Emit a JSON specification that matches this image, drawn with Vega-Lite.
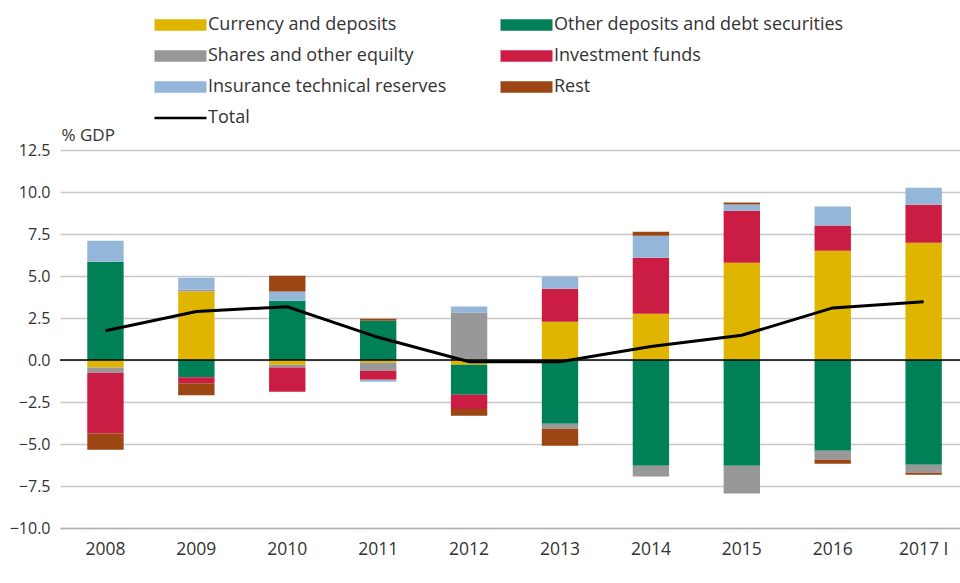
{
  "$schema": "https://vega.github.io/schema/vega-lite/v6.json",
  "autosize": "none",
  "width": 900,
  "height": 378,
  "padding": {"left": 60, "top": 150, "right": 0, "bottom": 55},
  "background": "white",
  "config": {
    "font": "Open Sans",
    "view": {"stroke": null},
    "axis": {"labelFont": "Open Sans", "labelColor": "#333333", "titleFont": "Open Sans", "titleColor": "#333333"},
    "legend": {"labelFont": "Open Sans", "labelColor": "#333333"}
  },
  "datasets": {
    "parts": [
      {"year": "2008", "component": "Currency and deposits", "idx": 1, "value": -0.44},
      {"year": "2008", "component": "Other deposits and debt securities", "idx": 2, "value": 5.85},
      {"year": "2008", "component": "Shares and other equilty", "idx": 3, "value": -0.32},
      {"year": "2008", "component": "Investment funds", "idx": 4, "value": -3.61},
      {"year": "2008", "component": "Insurance technical reserves", "idx": 5, "value": 1.25},
      {"year": "2008", "component": "Rest", "idx": 6, "value": -0.97},
      {"year": "2009", "component": "Currency and deposits", "idx": 1, "value": 4.07},
      {"year": "2009", "component": "Other deposits and debt securities", "idx": 2, "value": -1.03},
      {"year": "2009", "component": "Shares and other equilty", "idx": 3, "value": 0.12},
      {"year": "2009", "component": "Investment funds", "idx": 4, "value": -0.36},
      {"year": "2009", "component": "Insurance technical reserves", "idx": 5, "value": 0.71},
      {"year": "2009", "component": "Rest", "idx": 6, "value": -0.71},
      {"year": "2010", "component": "Currency and deposits", "idx": 1, "value": -0.28},
      {"year": "2010", "component": "Other deposits and debt securities", "idx": 2, "value": 3.53},
      {"year": "2010", "component": "Shares and other equilty", "idx": 3, "value": -0.16},
      {"year": "2010", "component": "Investment funds", "idx": 4, "value": -1.45},
      {"year": "2010", "component": "Insurance technical reserves", "idx": 5, "value": 0.54},
      {"year": "2010", "component": "Rest", "idx": 6, "value": 0.95},
      {"year": "2011", "component": "Currency and deposits", "idx": 1, "value": -0.16},
      {"year": "2011", "component": "Other deposits and debt securities", "idx": 2, "value": 2.34},
      {"year": "2011", "component": "Shares and other equilty", "idx": 3, "value": -0.48},
      {"year": "2011", "component": "Investment funds", "idx": 4, "value": -0.54},
      {"year": "2011", "component": "Insurance technical reserves", "idx": 5, "value": -0.12},
      {"year": "2011", "component": "Rest", "idx": 6, "value": 0.12},
      {"year": "2012", "component": "Currency and deposits", "idx": 1, "value": -0.28},
      {"year": "2012", "component": "Other deposits and debt securities", "idx": 2, "value": -1.79},
      {"year": "2012", "component": "Shares and other equilty", "idx": 3, "value": 2.82},
      {"year": "2012", "component": "Investment funds", "idx": 4, "value": -0.85},
      {"year": "2012", "component": "Insurance technical reserves", "idx": 5, "value": 0.36},
      {"year": "2012", "component": "Rest", "idx": 6, "value": -0.4},
      {"year": "2013", "component": "Currency and deposits", "idx": 1, "value": 2.28},
      {"year": "2013", "component": "Other deposits and debt securities", "idx": 2, "value": -3.79},
      {"year": "2013", "component": "Shares and other equilty", "idx": 3, "value": -0.3},
      {"year": "2013", "component": "Investment funds", "idx": 4, "value": 1.96},
      {"year": "2013", "component": "Insurance technical reserves", "idx": 5, "value": 0.71},
      {"year": "2013", "component": "Rest", "idx": 6, "value": -1.01},
      {"year": "2014", "component": "Currency and deposits", "idx": 1, "value": 2.76},
      {"year": "2014", "component": "Other deposits and debt securities", "idx": 2, "value": -6.29},
      {"year": "2014", "component": "Shares and other equilty", "idx": 3, "value": -0.65},
      {"year": "2014", "component": "Investment funds", "idx": 4, "value": 3.33},
      {"year": "2014", "component": "Insurance technical reserves", "idx": 5, "value": 1.31},
      {"year": "2014", "component": "Rest", "idx": 6, "value": 0.24},
      {"year": "2015", "component": "Currency and deposits", "idx": 1, "value": 5.79},
      {"year": "2015", "component": "Other deposits and debt securities", "idx": 2, "value": -6.29},
      {"year": "2015", "component": "Shares and other equilty", "idx": 3, "value": -1.65},
      {"year": "2015", "component": "Investment funds", "idx": 4, "value": 3.1},
      {"year": "2015", "component": "Insurance technical reserves", "idx": 5, "value": 0.36},
      {"year": "2015", "component": "Rest", "idx": 6, "value": 0.12},
      {"year": "2016", "component": "Currency and deposits", "idx": 1, "value": 6.51},
      {"year": "2016", "component": "Other deposits and debt securities", "idx": 2, "value": -5.4},
      {"year": "2016", "component": "Shares and other equilty", "idx": 3, "value": -0.54},
      {"year": "2016", "component": "Investment funds", "idx": 4, "value": 1.49},
      {"year": "2016", "component": "Insurance technical reserves", "idx": 5, "value": 1.13},
      {"year": "2016", "component": "Rest", "idx": 6, "value": -0.24},
      {"year": "2017 I", "component": "Currency and deposits", "idx": 1, "value": 6.98},
      {"year": "2017 I", "component": "Other deposits and debt securities", "idx": 2, "value": -6.23},
      {"year": "2017 I", "component": "Shares and other equilty", "idx": 3, "value": -0.48},
      {"year": "2017 I", "component": "Investment funds", "idx": 4, "value": 2.26},
      {"year": "2017 I", "component": "Insurance technical reserves", "idx": 5, "value": 1.01},
      {"year": "2017 I", "component": "Rest", "idx": 6, "value": -0.12}
    ],
    "total": [
      {"year": "2008", "total": 1.74},
      {"year": "2009", "total": 2.89},
      {"year": "2010", "total": 3.17},
      {"year": "2011", "total": 1.35},
      {"year": "2012", "total": -0.1},
      {"year": "2013", "total": -0.1},
      {"year": "2014", "total": 0.8},
      {"year": "2015", "total": 1.47},
      {"year": "2016", "total": 3.1},
      {"year": "2017 I", "total": 3.47}
    ],
    "zero": [{"y": 0}]
  },
  "layer": [
    {
      "data": {"name": "parts"},
      "mark": {"type": "bar"},
      "encoding": {
        "x": {
          "field": "year", "type": "nominal", "sort": null,
          "scale": {"paddingInner": 0.6, "paddingOuter": 0.25, "align": 0.6},
          "axis": {"title": null, "labelAngle": 0, "labelFontSize": 17.5, "labelPadding": 12, "ticks": false, "domain": true, "domainColor": "#b4b4b4", "domainWidth": 1.5}
        },
        "y": {
          "field": "value", "type": "quantitative", "stack": "zero",
          "scale": {"domain": [-10, 12.5], "nice": false, "zero": false},
          "axis": {
            "title": "% GDP", "titleAngle": 0, "titleAlign": "left", "titleBaseline": "alphabetic",
            "titleX": 1, "titleY": -10, "titleFontSize": 17, "titleFontWeight": "normal",
            "values": [-10, -7.5, -5, -2.5, 0, 2.5, 5, 7.5, 10, 12.5], "format": ".1f",
            "labelFontSize": 16, "labelPadding": 10, "ticks": false, "domain": false,
            "grid": true, "gridColor": "#c8c8c8", "gridWidth": 1.3
          }
        },
        "color": {
          "field": "component", "type": "nominal",
          "scale": {
            "domain": ["Currency and deposits", "Other deposits and debt securities", "Shares and other equilty", "Investment funds", "Insurance technical reserves", "Rest", "Total"],
            "range": ["#DFB500", "#008057", "#989898", "#CB1D44", "#94B6D9", "#9C4614", "#000000"]
          },
          "legend": {
            "title": null, "orient": "none", "legendX": 92, "legendY": -134,
            "direction": "horizontal", "columns": 2, "gridAlign": "all", "columnPadding": -1,
            "rowPadding": 13, "padding": 0,
            "labelFontSize": 18, "labelOffset": 38, "labelLimit": 400,
            "symbolSize": 169, "symbolStrokeWidth": 0, "symbolOpacity": 1,
            "symbolType": "M-1,-0.9L7,-0.9L7,0.9L-1,0.9Z",
            "encode": {
              "symbols": {
                "update": {
                  "shape": [
                    {"test": "datum.label === 'Total'", "value": "M-1,-0.2L7,-0.2L7,0.2L-1,0.2Z"},
                    {"value": "M-1,-0.9L7,-0.9L7,0.9L-1,0.9Z"}
                  ]
                }
              }
            }
          }
        },
        "order": {"field": "idx", "type": "quantitative", "sort": "ascending"}
      }
    },
    {
      "data": {"name": "zero"},
      "mark": {"type": "rule", "color": "#000000", "strokeWidth": 1.6},
      "encoding": {"y": {"field": "y", "type": "quantitative"}}
    },
    {
      "data": {"name": "total"},
      "mark": {"type": "line", "color": "#000000", "strokeWidth": 3},
      "encoding": {
        "x": {"field": "year", "type": "nominal", "sort": null},
        "y": {"field": "total", "type": "quantitative"}
      }
    }
  ]
}
